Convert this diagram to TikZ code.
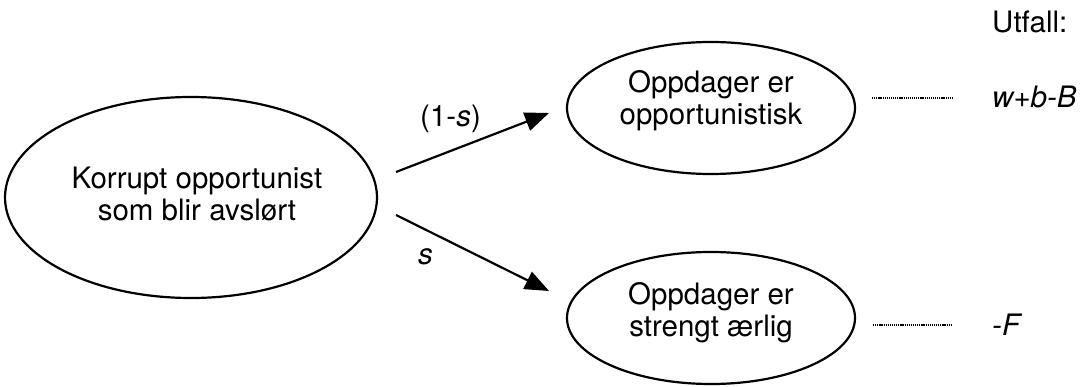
\documentclass[tikz,border=0pt]{standalone}
\usepackage{fontspec}
\setmainfont{TeX Gyre Heros}
\usetikzlibrary{shapes.geometric,arrows.meta}
\begin{document}
\begin{tikzpicture}[x=1pt,y=-1pt,
  oval/.style={draw, ellipse, line width=2.2pt, inner sep=0pt},
  txt/.style={align=center, inner sep=0pt, font=\fontsize{29.5}{32}\selectfont},
  lbl/.style={inner sep=0pt, anchor=base west, font=\fontsize{29.5}{32}\selectfont},
  branch/.style={line width=2.2pt, -{Triangle[length=24pt,width=19pt]}},
  leader/.style={line width=1.3pt, dash pattern=on 1.2pt off 0.9pt}]
\useasboundingbox (0,0) rectangle (1083,387);

% decision node and the two outcomes
\node[oval, minimum width=372pt, minimum height=201pt] (root) at (191,197.5) {};
\node[txt] (roottext) at (197,194) {Korrupt opportunist\\som blir avslørt};
\node[oval, minimum width=288pt, minimum height=132pt] (opp) at (711,108) {};
\node[txt] (opptext) at (711,101) {Oppdager er\\opportunistisk};
\node[oval, minimum width=288pt, minimum height=132pt] (hon) at (711,318) {};
\node[txt] (hontext) at (711,313) {Oppdager er\\strengt ærlig};

% branches
\coordinate (b1s) at (396,172);
\coordinate (b1e) at (549,113);
\coordinate (b2s) at (396,215);
\coordinate (b2e) at (549,291);
\draw[branch] (b1s) -- (b1e);
\draw[branch] (b2s) -- (b2e);
\node[lbl] (p1) at (420,127) {(1-\textit{s})};
\node[lbl] (p2) at (418,264) {\textit{s}};

% payoffs
\node[lbl] (head) at (992,33) {Utfall:};
\node[lbl] (pay1) at (992,108) {\textit{w+b-B}};
\node[lbl] (pay2) at (992,335) {\textit{-F}};
\coordinate (d1s) at (872,98);
\coordinate (d1e) at (952,98);
\coordinate (d2s) at (873,325);
\coordinate (d2e) at (952,325);
\draw[leader] (d1s) -- (d1e);
\draw[leader] (d2s) -- (d2e);
\end{tikzpicture}
\end{document}
